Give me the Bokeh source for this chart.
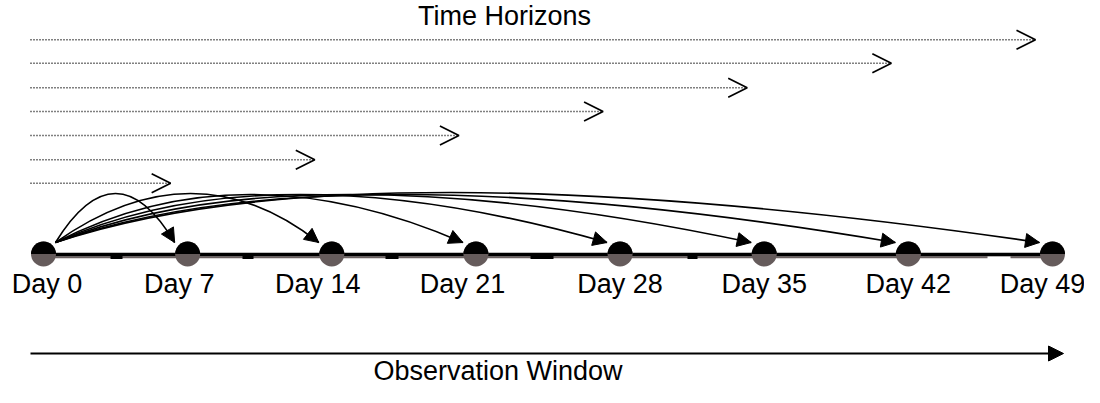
import math
from bokeh.plotting import figure
from bokeh.models import Range1d, Arrow, OpenHead, NormalHead
from bokeh.core.properties import value
from bokeh.embed import file_html
from bokeh.resources import INLINE

# ---- data ----
days = [0, 7, 14, 21, 28, 35, 42, 49]
day_labels = ["Day 0", "Day 7", "Day 14", "Day 21", "Day 28", "Day 35", "Day 42", "Day 49"]
horizons = [7, 14, 21, 28, 35, 42, 49]
title_text = "Time Horizons"
window_text = "Observation Window"

# ---- layout / styling (pixel geometry of the diagram) ----
horizon_rows = [182.7, 159.3, 135.0, 111.0, 87.3, 62.7, 39.3]
curve_peak_px = [115, 190, 250, 300, 350, 400, 450]
curve_peak_y = [193, 193, 194, 194, 194, 194, 192]
label_shift_px = [3.5, -8.5, -14, -13.5, 0, 0, 0, -10]
baseline_marks_px = [(110, 122), (242, 253), (385, 398), (530, 553), (687, 697)]
baseline_gap_px = [(987, 1010)]
TEXT_DY = -10  # compensation for svg text baseline placement

W, H = 1084, 387
PPD = 1009.0 / 49.0
X0 = -43.0 / PPD
X1 = X0 + W / PPD
FONT = value("Liberation Sans")


def px(d):
    return (d - X0) * PPD


def dd(p):
    return X0 + p / PPD


p = figure(width=W, height=H, x_range=Range1d(X0, X1), y_range=Range1d(H, 0),
           output_backend="svg", toolbar_location=None, min_border=0,
           x_axis_location=None, y_axis_location=None)
p.grid.visible = False
p.outline_line_color = None
p.background_fill_color = "white"
p.border_fill_color = "white"

# title
p.text(x=[dd(504)], y=[25 + TEXT_DY], text=[title_text], text_font=FONT, text_font_size="27px",
       text_align="center", text_baseline="alphabetic", text_color="black")

# horizon dotted arrows
for h, yy in zip(horizons, horizon_rows):
    p.add_layout(Arrow(x_start=dd(30), y_start=yy, x_end=h - 17 / PPD, y_end=yy,
                       line_dash="1 2", line_width=1.6, line_color="black",
                       end=OpenHead(size=19, line_width=1.7, line_color="black")))

# baseline
p.line(x=[days[0], days[-1]], y=[256.8, 256.8], line_width=2, line_color="#6b6161")
p.line(x=[days[0], days[-1]], y=[254, 254], line_width=3.5, line_color="black")
p.quad(left=[dd(a) for a, b in baseline_marks_px], right=[dd(b) for a, b in baseline_marks_px],
       top=[253] * len(baseline_marks_px), bottom=[258.5] * len(baseline_marks_px),
       fill_color="black", line_color=None)
p.quad(left=[dd(a) for a, b in baseline_gap_px], right=[dd(b) for a, b in baseline_gap_px],
       top=[256] * len(baseline_gap_px), bottom=[258.5] * len(baseline_gap_px),
       fill_color="white", line_color=None)

# day circles: gray lower half, black upper half
p.scatter(x=days, y=[253.5] * len(days), size=25, marker="circle",
          fill_color="#655b5b", line_color=None)
p.wedge(x=days, y=[253.5] * len(days), radius=12.5, radius_units="screen",
        start_angle=0, end_angle=math.pi, fill_color="black", line_color=None)

# curved arrows from Day 0
xs, ys = 55.0, 242.0
for d, pk_x, pk_y in zip(days[1:], curve_peak_px, curve_peak_y):
    xe, ye = px(d) - 13, 242.0
    xc = 2 * pk_x - (xs + xe) / 2
    yc = 2 * pk_y - (ys + ye) / 2
    p.quadratic(x0=[dd(xs)], y0=[ys], x1=[dd(xe)], y1=[ye], cx=[dd(xc)], cy=[yc],
                line_width=1.6, line_color="black")
    ux, uy = xe - xc, ye - yc
    n = math.hypot(ux, uy)
    ux, uy = ux / n, uy / n
    p.add_layout(Arrow(x_start=dd(xe - 6 * ux), y_start=ye - 6 * uy, x_end=dd(xe), y_end=ye,
                       line_alpha=0,
                       end=NormalHead(size=14, fill_color="black", line_color="black", line_width=1)))

# day labels
p.text(x=[dd(px(d) + s) for d, s in zip(days, label_shift_px)], y=[293 + TEXT_DY] * len(days),
       text=day_labels, text_font=FONT, text_font_size="27px",
       text_align="center", text_baseline="alphabetic", text_color="black")

# observation window arrow
p.add_layout(Arrow(x_start=dd(30), y_start=353, x_end=dd(1063), y_end=353,
                   line_width=2, line_color="black",
                   end=NormalHead(size=15, fill_color="black", line_color="black")))
p.text(x=[dd(497.5)], y=[380 + TEXT_DY], text=[window_text], text_font=FONT, text_font_size="27px",
       text_align="center", text_baseline="alphabetic", text_color="black")

open("out.html", "w").write(file_html(p, INLINE))
